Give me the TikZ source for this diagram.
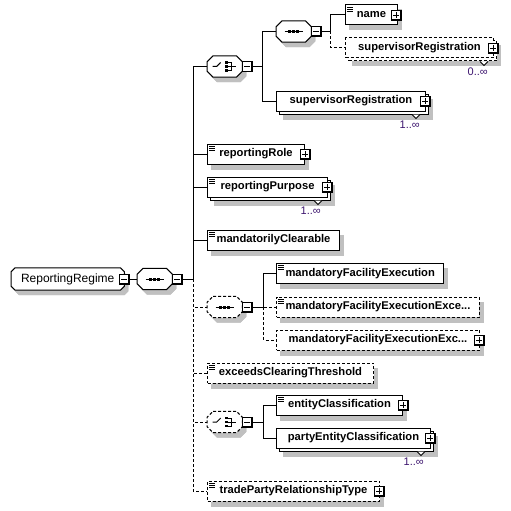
\documentclass[tikz,border=0pt]{standalone}
\usepackage{fontspec}
\setmainfont{Liberation Sans}
\definecolor{shadowgray}{RGB}{192,192,192}
\definecolor{multcolor}{RGB}{60,20,110}

\begin{document}
\begin{tikzpicture}[x=1pt,y=-1pt]
  \tikzstyle{conn} = [line width=1pt]
  \tikzstyle{opt} = [dash pattern=on 3pt off 2pt]
  \tikzstyle{boxshadow} = [preaction={draw=none, fill=shadowgray, transform canvas={shift={(4pt,-5pt)}}}]
  \tikzstyle{elem} = [rectangle, draw=black, fill=white, line width=1pt, minimum height=20pt, anchor=west, inner xsep=9pt, inner ysep=0pt, font=\fontsize{11.2}{13}\selectfont\bfseries]
  \tikzstyle{rootbox} = [rectangle, minimum width=113pt, minimum height=22pt, inner sep=0pt, anchor=west, font=\fontsize{12}{14}\selectfont]
  \tikzstyle{comp} = [rectangle, minimum width=35pt, minimum height=21pt, inner sep=0pt, anchor=west]
  \tikzstyle{plusbtn} = [rectangle, draw=black, fill=white, line width=0.9pt, minimum size=10pt, inner sep=0pt,
    path picture={\draw[line width=2pt] (path picture bounding box.north east) -- (path picture bounding box.south east) -- (path picture bounding box.south west);
      \draw[line width=0.9pt] ([xshift=2pt]path picture bounding box.west) -- ([xshift=-2pt]path picture bounding box.east) ([yshift=-2pt]path picture bounding box.north) -- ([yshift=2pt]path picture bounding box.south);}]
  \tikzstyle{minusbtn} = [rectangle, draw=black, fill=white, line width=0.9pt, minimum size=10pt, inner sep=0pt,
    path picture={\draw[line width=2pt] (path picture bounding box.north east) -- (path picture bounding box.south east) -- (path picture bounding box.south west);
      \draw[line width=0.9pt] ([xshift=2pt]path picture bounding box.west) -- ([xshift=-2pt]path picture bounding box.east);}]
  \tikzstyle{mult} = [inner sep=0pt, anchor=base east, text=multcolor, font=\fontsize{11}{13}\selectfont]
  \tikzstyle{many} = [line width=0.8pt, fill=white]

  \useasboundingbox (0,0) rectangle (511,511);

  % root and main sequence
  \node[rootbox] (root) at (11,279) {};
  \node[comp] (seqmain) at (137,279) {};
  \coordinate (trunk) at (193,279);

  % choice: name / supervisorRegistration
  \node[comp] (choice1) at (207,66.5) {};
  \node[comp] (seq1) at (276,31.5) {};
  \node[elem, boxshadow, minimum width=52] (name) at (345,15) {name};
  \node[elem, boxshadow, opt, minimum width=148] (supreg1back) at (348,51) {};
  \node[elem, opt, minimum width=148] (supreg1) at (345,48) {supervisorRegistration};
  \node[elem, boxshadow, minimum width=149] (supreg2back) at (279,104) {};
  \node[elem, minimum width=149] (supreg2) at (276,101) {supervisorRegistration};

  % plain elements
  \node[elem, boxshadow, minimum width=97] (role) at (207,154) {reportingRole};
  \node[elem, boxshadow, minimum width=120] (purposeback) at (210,190) {};
  \node[elem, minimum width=120] (purpose) at (207,187) {reportingPurpose};
  \node[elem, boxshadow, minimum width=132] (mandclear) at (207,240) {mandatorilyClearable};

  % optional sequence: mandatoryFacilityExecution...
  \node[comp] (seq2) at (207,307) {};
  \node[elem, boxshadow, minimum width=164] (mfe) at (276,273.5) {mandatoryFacilityExecution};
  \node[elem, boxshadow, opt, minimum width=202] (mfee) at (276,307) {mandatoryFacilityExecutionExce...};
  \node[elem, boxshadow, opt, minimum width=203] (mfex) at (276,340) {mandatoryFacilityExecutionExc...};

  \node[elem, boxshadow, opt, minimum width=166] (exceeds) at (207,373) {exceedsClearingThreshold};

  % optional choice: entity classification
  \node[comp] (choice2) at (207,422) {};
  \node[elem, boxshadow, minimum width=126] (entity) at (276,405) {entityClassification};
  \node[elem, boxshadow, minimum width=154] (partyback) at (279,441) {};
  \node[elem, minimum width=154] (party) at (276,438) {partyEntityClassification};

  \node[elem, boxshadow, opt, minimum width=172] (trade) at (207,491) {tradePartyRelationshipType};

  % shadows of the boxes (right and bottom strips)
  \foreach \n in {name,supreg1back,supreg2back,role,purposeback,mandclear,mfe,mfee,mfex,exceeds,entity,partyback,trade} {
    \fill[shadowgray] ([shift={(0,5)}]\n.north east) rectangle ([shift={(4,5)}]\n.south east);
    \fill[shadowgray] ([shift={(4,0)}]\n.south west) rectangle ([shift={(4,5)}]\n.south east);
  }

  % octagon outlines with their shadows
  \foreach \c/\s/\k in {root/solid/4, seqmain/solid/6, choice1/solid/6, seq1/solid/6, seq2/opt/6, choice2/opt/6} {
    \fill[shadowgray] ([shift={(\k+4,5)}]\c.north west) -- ([shift={(4-\k,5)}]\c.north east) -- ([shift={(4,\k+5)}]\c.north east) -- ([shift={(4,5-\k)}]\c.south east)
      -- ([shift={(4-\k,5)}]\c.south east) -- ([shift={(\k+4,5)}]\c.south west) -- ([shift={(4,5-\k)}]\c.south west) -- ([shift={(4,\k+5)}]\c.north west) -- cycle;
    \draw[line width=1pt, fill=white, \s, boxshadow] ([shift={(\k,0)}]\c.north west) -- ([shift={(-\k,0)}]\c.north east) -- ([shift={(0,\k)}]\c.north east) -- ([shift={(0,-\k)}]\c.south east)
      -- ([shift={(-\k,0)}]\c.south east) -- ([shift={(\k,0)}]\c.south west) -- ([shift={(0,-\k)}]\c.south west) -- ([shift={(0,\k)}]\c.north west) -- cycle;
  }
  \node[rootbox] (roottext) at (root.west) {ReportingRegime};

  % multiplicities
  \draw[many] ([xshift=-17]supreg1back.south east) -- ++(4,4) -- ++(4,-4);
  \node[mult] (supreg1mult) at ([shift={(-9,14)}]supreg1back.south east) {0..∞};
  \draw[many] ([xshift=-17]supreg2back.south east) -- ++(4,4) -- ++(4,-4);
  \node[mult] (supreg2mult) at ([shift={(-9,14)}]supreg2back.south east) {1..∞};
  \draw[many] ([xshift=-17]purposeback.south east) -- ++(4,4) -- ++(4,-4);
  \node[mult] (purposemult) at ([shift={(-10,14)}]purposeback.south east) {1..∞};
  \draw[many] ([xshift=-17]partyback.south east) -- ++(4,4) -- ++(4,-4);
  \node[mult] (partymult) at ([shift={(-10,14)}]partyback.south east) {1..∞};

  % compositor icons
  \foreach \c in {seqmain,seq1,seq2} {
    \draw[line width=1pt] ([xshift=-9]\c.center) -- ([xshift=9]\c.center);
    \foreach \d in {-4,0,4}
      \fill[black] ([shift={(\d-1.5,-1.5)}]\c.center) rectangle ([shift={(\d+1.5,1.5)}]\c.center);
  }
  \foreach \c in {choice1,choice2} {
    \draw[line width=1pt] ([xshift=-12]\c.center) -- ([xshift=-8]\c.center) -- ([shift={(-4,-4)}]\c.center);
    \foreach \d in {-4,0,4}
      \fill[black] ([shift={(0.2,\d-1.3)}]\c.center) rectangle ([shift={(2.8,\d+1.3)}]\c.center);
    \draw[line width=0.9pt] ([shift={(3,-4)}]\c.center) -- ([shift={(7,-4)}]\c.center) -- ([shift={(7,4)}]\c.center) -- ([shift={(3,4)}]\c.center)
      ([shift={(3,0)}]\c.center) -- ([shift={(11,0)}]\c.center);
  }

  % simple content marks
  \foreach \n in {name,role,purpose,mandclear,mfe,mfee,exceeds,entity,trade}
    \draw[line width=0.8pt] (\n.north west) ++(2,2.5) -- ++(6,0) ++(-6,2) -- ++(6,0) ++(-6,2) -- ++(6,0);

  % expand / collapse buttons
  \node[minusbtn] (rootbtn) at (root.east) {};
  \node[minusbtn] (seqmainbtn) at ([xshift=5]seqmain.east) {};
  \node[minusbtn] (choice1btn) at ([xshift=5]choice1.east) {};
  \node[minusbtn] (seq1btn) at ([xshift=5]seq1.east) {};
  \node[minusbtn] (seq2btn) at ([xshift=5]seq2.east) {};
  \node[minusbtn] (choice2btn) at ([xshift=5]choice2.east) {};
  \node[plusbtn] (namebtn) at ([xshift=-2]name.east) {};
  \node[plusbtn] (supreg1btn) at ([xshift=-1]supreg1.east) {};
  \node[plusbtn] (supreg2btn) at ([xshift=-1]supreg2.east) {};
  \node[plusbtn] (rolebtn) at (role.east) {};
  \node[plusbtn] (purposebtn) at ([xshift=-1]purpose.east) {};
  \node[plusbtn] (mfexbtn) at ([xshift=-1]mfex.east) {};
  \node[plusbtn] (entitybtn) at (entity.east) {};
  \node[plusbtn] (partybtn) at ([xshift=-1]party.east) {};
  \node[plusbtn] (tradebtn) at ([xshift=-1]trade.east) {};

  \coordinate (c1trunk) at ([xshift=10]choice1btn.east);
  \coordinate (s1trunk) at ([xshift=9]seq1btn.east);
  \coordinate (s2trunk) at ([xshift=11]seq2btn.east);
  \coordinate (c2trunk) at ([xshift=11]choice2btn.east);

  % connectors
  \draw[conn] (rootbtn.east) -- (seqmain.west);
  \draw[conn] (seqmainbtn.east) -- (trunk);
  \draw[conn] (trunk) |- (choice1.west);
  \draw[conn] (trunk) |- (role.west);
  \draw[conn] (trunk) |- (purpose.west);
  \draw[conn] (trunk) |- (mandclear.west);
  \draw[conn, opt] (trunk) |- (seq2.west);
  \draw[conn, opt] (trunk) |- (exceeds.west);
  \draw[conn, opt] (trunk) |- (choice2.west);
  \draw[conn, opt] (trunk) |- (trade.west);

  \draw[conn] (choice1btn.east) -- (c1trunk);
  \draw[conn] (c1trunk) |- (seq1.west);
  \draw[conn] (c1trunk) |- (supreg2.west);
  \draw[conn] (seq1btn.east) -- (s1trunk);
  \draw[conn] (s1trunk) |- (name.west);
  \draw[conn, opt] (s1trunk) |- (supreg1.west);

  \draw[conn] (seq2btn.east) -- (s2trunk);
  \draw[conn] (s2trunk) |- (mfe.west);
  \draw[conn, opt] (s2trunk) |- (mfee.west);
  \draw[conn, opt] (s2trunk) |- (mfex.west);

  \draw[conn] (choice2btn.east) -- (c2trunk);
  \draw[conn] (c2trunk) |- (entity.west);
  \draw[conn] (c2trunk) |- (party.west);
\end{tikzpicture}
\end{document}
